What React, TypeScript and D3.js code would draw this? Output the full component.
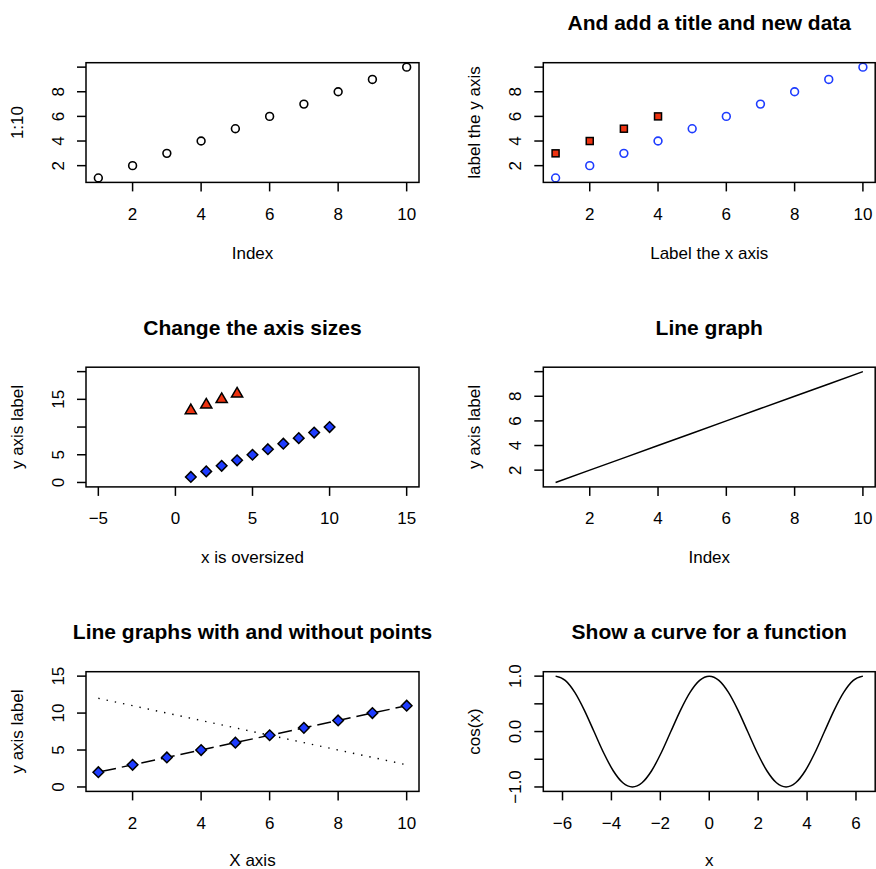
import React from "react";
import * as d3 from "d3";

// data
const index = [1, 2, 3, 4, 5, 6, 7, 8, 9, 10];
const seqY = [1, 2, 3, 4, 5, 6, 7, 8, 9, 10];
const newX = [1, 2, 3, 4];
const newY = [3, 4, 5, 6];
const triY = [13, 14, 15, 16];
const dashedY = [2, 3, 4, 5, 6, 7, 8, 9, 10, 11];
const dottedY = [12, 11, 10, 9, 8, 7, 6, 5, 4, 3];
// cos curve sampled at pi/8 steps, from -2pi to 2pi
const cosSteps = [
  -16, -15, -14, -13, -12, -11, -10, -9, -8, -7, -6, -5, -4, -3, -2, -1, 0,
  1, 2, 3, 4, 5, 6, 7, 8, 9, 10, 11, 12, 13, 14, 15, 16,
];
const cosY = [
  1, 0.924, 0.707, 0.383, 0, -0.383, -0.707, -0.924, -1, -0.924, -0.707, -0.383, 0, 0.383, 0.707, 0.924, 1,
  0.924, 0.707, 0.383, 0, -0.383, -0.707, -0.924, -1, -0.924, -0.707, -0.383, 0, 0.383, 0.707, 0.924, 1,
];

const idxTicks = [2, 4, 6, 8, 10];
const idxTickLabels = ["2", "4", "6", "8", "10"];
const smallYTicks = [2, 4, 6, 8, 10];
const smallYLabels = ["2", "4", "6", "8", ""];
const bigXTicks = [-5, 0, 5, 10, 15];
const bigXLabels = ["\u22125", "0", "5", "10", "15"];
const bigYTicks = [0, 5, 10, 15, 20];
const bigYLabels = ["0", "5", "", "15", ""];
const lineYTicks = [0, 5, 10, 15];
const lineYLabels = ["0", "5", "10", "15"];
const cosXTicks = [-6, -4, -2, 0, 2, 4, 6];
const cosXLabels = ["\u22126", "\u22124", "\u22122", "0", "2", "4", "6"];
const cosYTicks = [-1, -0.5, 0, 0.5, 1];
const cosYLabels = ["\u22121.0", "", "0.0", "", "1.0"];

const FONT = "'Liberation Sans', Arial, Helvetica, sans-serif";
const BLUE = "#1e3cff";
const RED = "#ee3311";
const LW = 1.5;

const cols = [
  { x0: 86, x1: 419 },
  { x0: 543.3, x1: 875.2 },
];
const rows = [62.7, 367.2, 671.7];
const boxH = 119.7;

const pad = ([a, b]) => {
  const p = (b - a) * 0.04;
  return [a - p, b + p];
};

const Panel = ({ col, row, xDom, yDom, xTicks, xLabels, yTicks, yLabels, title, xLab, yLab, children }) => {
  const { x0, x1 } = cols[col];
  const y0 = rows[row];
  const y1 = y0 + boxH;
  const x = d3.scaleLinear().domain(pad(xDom)).range([x0, x1]);
  const y = d3.scaleLinear().domain(pad(yDom)).range([y1, y0]);
  const cx = (x0 + x1) / 2;
  const cy = (y0 + y1) / 2;
  // the bottom row's x label sits at the page edge
  const xLabY = row === 2 ? y1 + 69 : y1 + 71;

  return (
    <g fontFamily={FONT} fontSize={17}>
      <defs>
        <clipPath id={`clip-${col}-${row}`}>
          <rect x={x0} y={y0} width={x1 - x0} height={y1 - y0} />
        </clipPath>
      </defs>
      {title && (
        <text x={cx} y={y0 - 40} textAnchor="middle" dominantBaseline="central" fontWeight="bold" fontSize={21}>
          {title}
        </text>
      )}
      <g clipPath={`url(#clip-${col}-${row})`}>{children(x, y)}</g>
      <rect x={x0} y={y0} width={x1 - x0} height={y1 - y0} fill="none" stroke="black" strokeWidth={LW} />
      {xTicks.map((t, i) => (
        <g key={`xt-${t}`}>
          <line x1={x(t)} x2={x(t)} y1={y1} y2={y1 + 9} stroke="black" strokeWidth={LW} />
          <text x={x(t)} y={y1 + 32} textAnchor="middle" dominantBaseline="central">
            {xLabels[i]}
          </text>
        </g>
      ))}
      {yTicks.map((t, i) => (
        <g key={`yt-${t}`}>
          <line x1={x0} x2={x0 - 9} y1={y(t)} y2={y(t)} stroke="black" strokeWidth={LW} />
          <text
            transform={`translate(${x0 - 28},${y(t)}) rotate(-90)`}
            textAnchor="middle"
            dominantBaseline="central"
          >
            {yLabels[i]}
          </text>
        </g>
      ))}
      <text x={cx} y={xLabY} textAnchor="middle" dominantBaseline="central">
        {xLab}
      </text>
      <text transform={`translate(${x0 - 69},${cy}) rotate(-90)`} textAnchor="middle" dominantBaseline="central">
        {yLab}
      </text>
    </g>
  );
};

const Circle = ({ cx, cy, color }) => (
  <circle cx={cx} cy={cy} r={3.9} fill="none" stroke={color} strokeWidth={1.6} />
);
const Square = ({ cx, cy }) => (
  <rect x={cx - 3.5} y={cy - 3.5} width={7} height={7} fill={RED} stroke="black" strokeWidth={LW} />
);
const Diamond = ({ cx, cy }) => (
  <path
    d={`M${cx},${cy - 5.3}L${cx + 5.3},${cy}L${cx},${cy + 5.3}L${cx - 5.3},${cy}Z`}
    fill={BLUE}
    stroke="black"
    strokeWidth={LW}
  />
);
const Triangle = ({ cx, cy }) => (
  <path
    d={`M${cx},${cy - 6.4}L${cx + 5.6},${cy + 3.2}L${cx - 5.6},${cy + 3.2}Z`}
    fill={RED}
    stroke="black"
    strokeWidth={LW}
  />
);

const App = () => {
  const line = (x, y, ys, xs = index) =>
    d3.line<number>()
      .x((_, i) => x(xs[i]))
      .y((d) => y(d))(ys);

  return (
    <svg width={876} height={869} style={{ position: "absolute", left: 0, top: 0, background: "white" }}>
      <Panel col={0} row={0} xDom={[1, 10]} yDom={[1, 10]} xTicks={idxTicks} xLabels={idxTickLabels}
        yTicks={smallYTicks} yLabels={smallYLabels} xLab="Index" yLab="1:10">
        {(x, y) => index.map((d, i) => <Circle key={d} cx={x(d)} cy={y(seqY[i])} color="black" />)}
      </Panel>

      <Panel col={1} row={0} xDom={[1, 10]} yDom={[1, 10]} xTicks={idxTicks} xLabels={idxTickLabels}
        yTicks={smallYTicks} yLabels={smallYLabels} title="And add a title and new data"
        xLab="Label the x axis" yLab="label the y axis">
        {(x, y) => (
          <>
            {index.map((d, i) => <Circle key={d} cx={x(d)} cy={y(seqY[i])} color={BLUE} />)}
            {newX.map((d, i) => <Square key={d} cx={x(d)} cy={y(newY[i])} />)}
          </>
        )}
      </Panel>

      <Panel col={0} row={1} xDom={[-5, 15]} yDom={[0, 20]} xTicks={bigXTicks} xLabels={bigXLabels}
        yTicks={bigYTicks} yLabels={bigYLabels} title="Change the axis sizes"
        xLab="x is oversized" yLab="y axis label">
        {(x, y) => (
          <>
            {index.map((d, i) => <Diamond key={d} cx={x(d)} cy={y(seqY[i])} />)}
            {newX.map((d, i) => <Triangle key={d} cx={x(d)} cy={y(triY[i])} />)}
          </>
        )}
      </Panel>

      <Panel col={1} row={1} xDom={[1, 10]} yDom={[1, 10]} xTicks={idxTicks} xLabels={idxTickLabels}
        yTicks={smallYTicks} yLabels={smallYLabels} title="Line graph" xLab="Index" yLab="y axis label">
        {(x, y) => <path d={line(x, y, seqY)} fill="none" stroke="black" strokeWidth={LW} />}
      </Panel>

      <Panel col={0} row={2} xDom={[1, 10]} yDom={[0, 15]} xTicks={idxTicks} xLabels={idxTickLabels}
        yTicks={lineYTicks} yLabels={lineYLabels} title="Line graphs with and without points"
        xLab="X axis" yLab="y axis label">
        {(x, y) => (
          <>
            <path d={line(x, y, dottedY)} fill="none" stroke="black" strokeWidth={1.4}
              strokeDasharray="1.4 7" />
            <path d={line(x, y, dashedY)} fill="none" stroke="black" strokeWidth={LW}
              strokeDasharray="14 6" strokeDashoffset={-4} />
            {index.map((d, i) => <Diamond key={d} cx={x(d)} cy={y(dashedY[i])} />)}
          </>
        )}
      </Panel>

      <Panel col={1} row={2} xDom={[-2 * Math.PI, 2 * Math.PI]} yDom={[-1, 1]} xTicks={cosXTicks}
        xLabels={cosXLabels} yTicks={cosYTicks} yLabels={cosYLabels}
        title="Show a curve for a function" xLab="x" yLab="cos(x)">
        {(x, y) => {
          const xs = cosSteps.map((k) => (k * Math.PI) / 8);
          const d = d3.line<number>()
            .curve(d3.curveMonotoneX)
            .x((_, i) => x(xs[i]))
            .y((v) => y(v))(cosY);
          return <path d={d} fill="none" stroke="black" strokeWidth={LW} />;
        }}
      </Panel>
    </svg>
  );
};

export default App;
